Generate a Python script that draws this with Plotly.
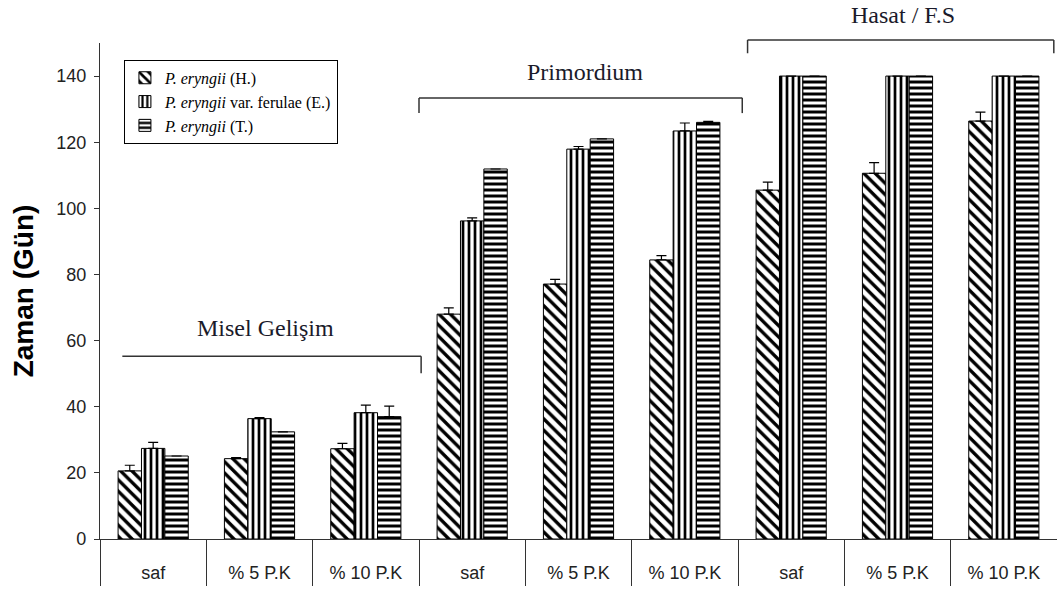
import plotly.graph_objects as go

# ---- data ----
categories = ["Misel|saf", "Misel|%5", "Misel|%10",
              "Prim|saf", "Prim|%5", "Prim|%10",
              "Hasat|saf", "Hasat|%5", "Hasat|%10"]
tick_labels = ["saf", "% 5 P.K", "% 10 P.K"] * 3

series_names = ["<i>P. eryngii</i> (H.)",
                "<i>P. eryngii</i> var. ferulae (E.)",
                "<i>P. eryngii</i> (T.)"]
vals_H = [20.6, 24.3, 27.3, 68.0, 77.1, 84.4, 105.5, 110.6, 126.4]
vals_E = [27.4, 36.4, 38.2, 96.2, 117.9, 123.4, 140, 140, 140]
vals_T = [25.1, 32.4, 37.0, 111.9, 121.0, 126.0, 140, 140, 140]
err_H = [1.7, 0.3, 1.6, 1.9, 1.4, 1.3, 2.4, 3.2, 2.7]
err_E = [1.8, 0.3, 2.3, 0.9, 0.8, 2.4, 0, 0, 0]
err_T = [0, 0, 3.2, 0, 0, 0.3, 0, 0, 0]

phase_labels = ["Misel Gelişim", "Primordium", "Hasat / F.S"]

fig = go.Figure()
patterns = [("\\", 8, 0.42), ("|", 6, 0.45), ("-", 6, 0.5)]
for name, vals, errs, (shp, size, sol) in zip(series_names, [vals_H, vals_E, vals_T],
                                              [err_H, err_E, err_T], patterns):
    fig.add_trace(go.Bar(
        x=categories, y=vals, name=name,
        marker=dict(color="white", line=dict(color="black", width=1),
                    pattern=dict(shape=shp, size=size, solidity=sol,
                                 fgcolor="black", bgcolor="white", fillmode="replace")),
        error_y=dict(type="data", array=errs, arrayminus=[0] * len(errs), symmetric=False,
                     color="black", thickness=1.2, width=5),
    ))

fig.update_layout(
    width=1057, height=590,
    margin=dict(l=100, r=0, t=43, b=51),
    paper_bgcolor="white", plot_bgcolor="white",
    barmode="group", bargap=0.34, bargroupgap=0,
    showlegend=True,
    legend=dict(x=0.025, y=0.966, xanchor="left", yanchor="top",
                bordercolor="black", borderwidth=1, bgcolor="white",
                font=dict(family="Liberation Serif", size=16, color="black"),
                tracegroupgap=0, itemwidth=30),
    font=dict(family="Liberation Sans", color="#222"),
)

fig.update_xaxes(
    type="category", tickmode="array", tickvals=categories, ticktext=tick_labels,
    tickson="boundaries", ticks="outside", ticklen=46, tickcolor="#333", tickwidth=1.2,
    showline=True, linecolor="#333", linewidth=1.2, showgrid=False,
    tickfont=dict(family="Liberation Sans", size=18, color="#222"),
    ticklabelstandoff=17,
)
fig.update_yaxes(
    range=[0, 150], tickmode="array", tickvals=list(range(0, 141, 20)),
    ticks="outside", ticklen=5, tickcolor="#333", tickwidth=1.2,
    showline=True, linecolor="#333", linewidth=1.2, showgrid=False, zeroline=False,
    tickfont=dict(family="Liberation Sans", size=18, color="#222"),
    ticklabelstandoff=4,
    title=dict(text="Zaman (Gün)", standoff=14,
               font=dict(family="Liberation Sans", size=28, color="black", weight="bold")),
)

# phase brackets (positions in category-index units, converted to paper)
n = len(categories)
def px(idx):
    return (idx + 0.5) / n

def py(v):
    return v / 150.0

brackets = [
    # (left, right, y_value, drop, left_tick, label_x, label_y)
    (-0.29, 2.52, 55.3, 5.2, False, 1.06, 63.8),
    (2.50, 5.54, 133.4, 4.6, True, 4.06, 141.2),
    (5.59, 8.47, 150.9, 4.0, True, 7.05, 158.5),
]
line_style = dict(color="#333", width=1.5)
for (l, r, yv, drop, ltick, lx, ly), lab in zip(brackets, phase_labels):
    fig.add_shape(type="line", xref="paper", yref="paper",
                  x0=px(l), x1=px(r), y0=py(yv), y1=py(yv), line=line_style)
    fig.add_shape(type="line", xref="paper", yref="paper",
                  x0=px(r), x1=px(r), y0=py(yv), y1=py(yv - drop), line=line_style)
    if ltick:
        fig.add_shape(type="line", xref="paper", yref="paper",
                      x0=px(l), x1=px(l), y0=py(yv), y1=py(yv - drop), line=line_style)
    fig.add_annotation(text=lab, xref="paper", yref="paper", x=px(lx), y=py(ly),
                       showarrow=False, xanchor="center", yanchor="middle",
                       font=dict(family="Liberation Serif", size=24, color="#1a1a2a"))

fig.write_html("out.html")
